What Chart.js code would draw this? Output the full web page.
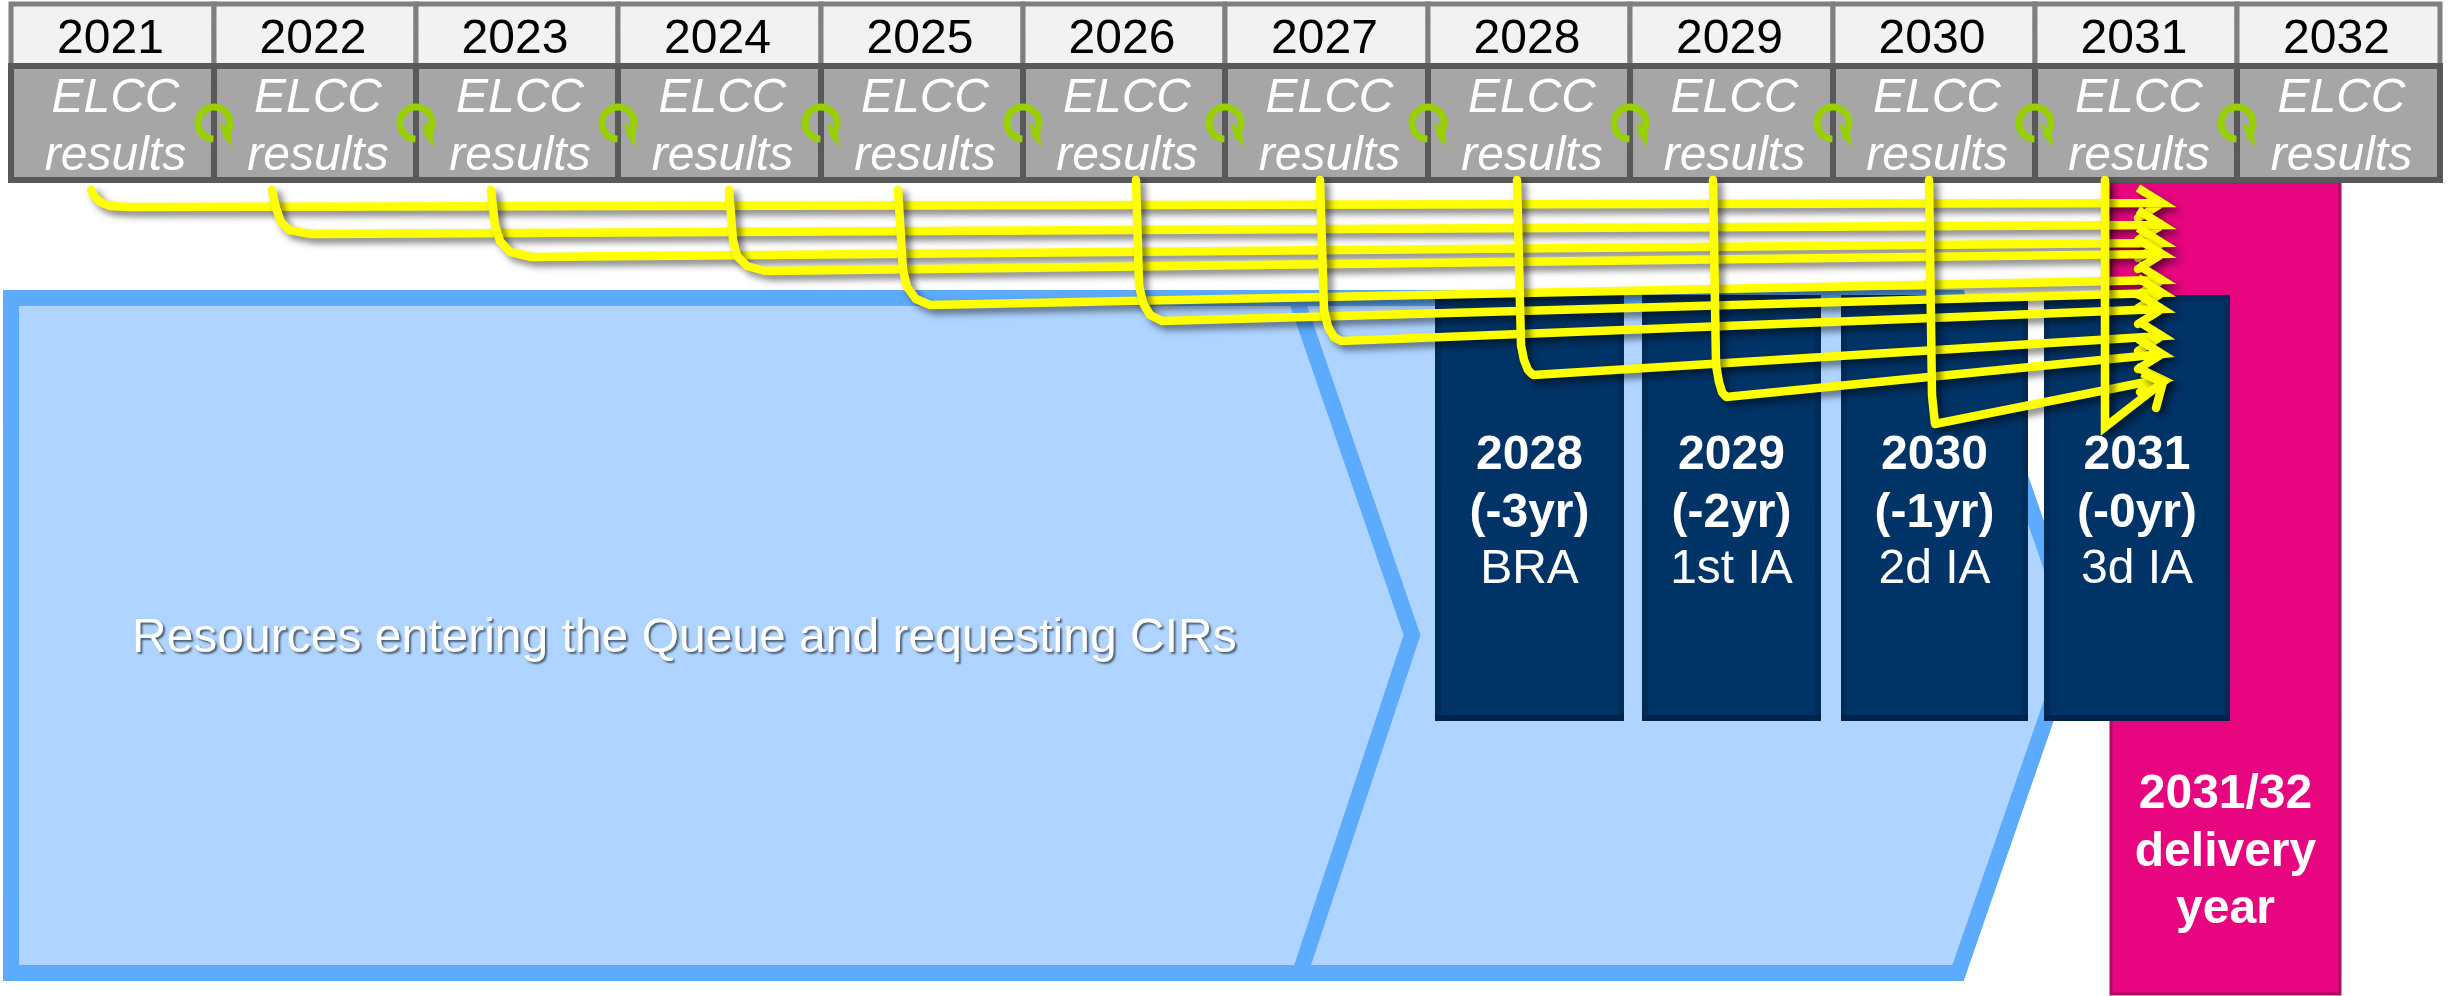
<!DOCTYPE html>
<html>
<head>
<meta charset="utf-8">
<style>html,body{margin:0;padding:0;background:#fff}canvas{display:block}</style>
<script src="https://cdn.jsdelivr.net/npm/chart.js@4/dist/chart.umd.js"></script>
</head>
<body>
<canvas id="c" width="2448" height="996"></canvas>
<script>
const years = [2021,2022,2023,2024,2025,2026,2027,2028,2029,2030,2031,2032];
const columnEdges = [11,214,416,618,821,1023,1225,1428,1630,1833,2035,2237,2440];
const yearRow = [4,66];
const elccRow = [66,180];
const auctionLabels = ['2028','2029','2030','2031'];
const auctionOffsets = ['(-3yr)','(-2yr)','(-1yr)','(-0yr)'];
const auctionTypes = ['BRA','1st IA','2d IA','3d IA'];
const auctionLefts = [1438,1645,1844,2047];
const auctionRights = [1621,1818,2025,2227];
const auctionRow = [298,718];
const deliveryLines = ['2031/32','delivery','year'];
const deliveryBar = [2111,2340,182,994];
const queueFront = [[11,298],[1296,298],[1412,635],[1300,973],[11,973],[11,298]];
const queueBack = [[1200,298],[1958,298],[2075,635],[1958,973],[1200,973],[1200,298]];
const queueLabel = 'Resources entering the Queue and requesting CIRs';

const link2021 = [[91,190],[94,196],[100,202],[110,206],[130,207],[2162,203]];
const link2022 = [[272,190],[276,208],[281,222],[289,230],[311,234],[2162,225]];
const link2023 = [[491,190],[495,225],[500,241],[510,252],[531,257],[2162,243]];
const link2024 = [[729,190],[733,240],[737,256],[747,266],[765,271],[2162,254]];
const link2025 = [[898,190],[903,270],[907,287],[916,299],[930,305],[2162,280]];
const link2026 = [[1136,180],[1139,285],[1143,303],[1150,315],[1162,321],[2162,293]];
const link2027 = [[1320,180],[1324,310],[1328,327],[1334,337],[1341,341],[2162,309]];
const link2028 = [[1517,180],[1521,345],[1524,360],[1528,370],[1533,375],[2162,336]];
const link2029 = [[1713,180],[1716,365],[1719,382],[1722,392],[1726,397],[2162,354]];
const link2030 = [[1929,180],[1932,395],[1935,424],[2161,379]];
const link2031 = [[2105,180],[2105,427],[2163,382]];
const links = [link2021,link2022,link2023,link2024,link2025,link2026,link2027,link2028,link2029,link2030,link2031];
const barbsUpper = [[2138,188],[2138,210],[2138,228],[2138,239],[2138,265],[2138,278],[2138,294],[2138,321],[2138,339],[2136,367],[2142,373]];
const barbsLower = [[2138,218],[2138,240],[2138,258],[2138,269],[2138,295],[2138,308],[2138,324],[2138,351],[2138,369],[2140,392],[2156,408]];

const cycleMarkX = columnEdges.slice(1,12);
const cycleMarkY = 123;

const pts = a => a.map(p => ({x:p[0], y:p[1]}));
const rect = (x0,x1,y0,y1) => [[x0,y0],[x1,y0],[x1,y1],[x0,y1],[x0,y0]];
const shape = (poly, fillCol, strokeCol, w) => ({data:pts(poly), showLine:true, fill:'shape', backgroundColor:fillCol, borderColor:strokeCol, borderWidth:w, pointRadius:0, tension:1e-4, borderJoinStyle:'miter', borderCapStyle:'square'});

// circular arrow glyph used as the point style of the cycle marks
const glyph = document.createElement('canvas'); glyph.width = 64; glyph.height = 64;
(function(){
  const g = glyph.getContext('2d'), c = 32;
  g.strokeStyle = '#98D000'; g.fillStyle = '#98D000'; g.lineWidth = 7;
  g.beginPath(); g.arc(c,c,16,92*Math.PI/180,395*Math.PI/180); g.stroke();
  g.beginPath(); g.moveTo(c+6,c-1); g.lineTo(c+9,c+13); g.lineTo(c+18,c+24); g.lineTo(c+17,c+9); g.closePath(); g.fill();
})();

const layers = [];
layers.push(shape(queueBack,'#AED4FF','#5DABFC',16));
layers.push(shape(queueFront,'#AED4FF','#5DABFC',16));
layers.push(shape(rect(deliveryBar[0],deliveryBar[1],deliveryBar[2],deliveryBar[3]),'#E7067F','#A90F60',3));
auctionLefts.forEach((l,i)=>{
  layers.push(shape(rect(l,auctionRights[i],auctionRow[0],auctionRow[1]),'#003366','#002C5A',6));
  layers.push({data:pts([[l-3,auctionRow[1]],[auctionRights[i]+3,auctionRow[1]]]), showLine:true, fill:false, borderColor:'#00234A', borderWidth:6, pointRadius:0, tension:1e-4});
});
years.forEach((y,i)=>layers.push(shape(rect(columnEdges[i],columnEdges[i+1],yearRow[0],yearRow[1]),'#F2F2F2','#7F7F7F',5)));
years.forEach((y,i)=>layers.push(shape(rect(columnEdges[i],columnEdges[i+1],elccRow[0],elccRow[1]),'#A6A6A6','#595959',6)));
layers.push({data:cycleMarkX.map(x=>({x,y:cycleMarkY})), showLine:false, pointStyle:glyph, pointRadius:20});
links.forEach((l,i)=>{
  const tip = l[l.length-1];
  layers.push({data:pts([...l,barbsUpper[i],tip,barbsLower[i]]), showLine:true, fill:false, borderColor:'#FFFF00', borderWidth:8.5, pointRadius:0, tension:1e-4, borderJoinStyle:'miter', borderCapStyle:'round', castShadow:true});
});

const shadowPlugin = {
  id:'shadowPlugin',
  beforeDatasetDraw(chart,args){
    const ds = chart.data.datasets[args.index];
    if(ds.castShadow){ const c=chart.ctx; c.save(); c.shadowColor='rgba(0,0,0,0.5)'; c.shadowBlur=7; c.shadowOffsetX=5; c.shadowOffsetY=5; }
  },
  afterDatasetDraw(chart,args){
    if(chart.data.datasets[args.index].castShadow) chart.ctx.restore();
  }
};

const labelPlugin = {
  id:'labelPlugin',
  afterDatasetsDraw(chart){
    const c = chart.ctx, X = v=>chart.scales.x.getPixelForValue(v), Y = v=>chart.scales.y.getPixelForValue(v);
    const put = (t,x,y,font,col,align)=>{c.font=font;c.fillStyle=col;c.textAlign=align||'center';c.textBaseline='alphabetic';c.fillText(t,X(x),Y(y));};
    const fam = '"Liberation Sans", Arial, sans-serif';
    c.save();
    years.forEach((yr,i)=>{
      const m=(columnEdges[i]+columnEdges[i+1])/2;
      put(String(yr),m-2,53,'48px '+fam,'#000000');
      put('ELCC',m+3,112,'italic 48px '+fam,'#FFFFFF');
      put('results',m+3,170,'italic 48px '+fam,'#FFFFFF');
    });
    auctionLabels.forEach((t,i)=>{
      const m=(auctionLefts[i]+auctionRights[i])/2;
      put(t,m,469,'bold 48px '+fam,'#FFFFFF');
      put(auctionOffsets[i],m,527,'bold 48px '+fam,'#FFFFFF');
      put(auctionTypes[i],m,583,'48px '+fam,'#FFFFFF');
    });
    const dm=(deliveryBar[0]+deliveryBar[1])/2;
    [808,866,923].forEach((b,i)=>put(deliveryLines[i],dm,b,'bold 48px '+fam,'#FFFFFF'));
    c.shadowColor='rgba(0,0,0,0.55)'; c.shadowBlur=2; c.shadowOffsetX=2; c.shadowOffsetY=2;
    put(queueLabel,132,652,'48px '+fam,'#FFFFFF','left');
    c.restore();
  }
};

new Chart(document.getElementById('c'),{
  type:'scatter',
  data:{datasets:layers.slice().reverse()},
  plugins:[shadowPlugin,labelPlugin],
  options:{
    responsive:false, animation:false, events:[],
    layout:{padding:0,autoPadding:false},
    plugins:{legend:{display:false},tooltip:{enabled:false},title:{display:false}},
    scales:{
      x:{type:'linear',min:0,max:2448,display:false},
      y:{type:'linear',min:0,max:996,reverse:true,display:false}
    }
  }
});
</script>
</body>
</html>
